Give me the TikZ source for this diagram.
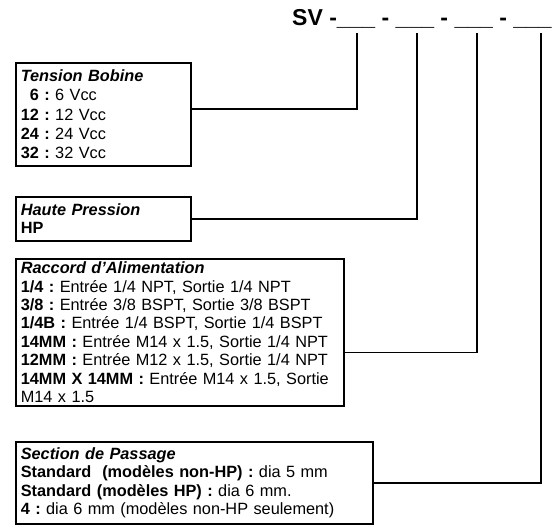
\documentclass[tikz,border=0pt]{standalone}
\usepackage{fontspec}
\setmainfont{Liberation Sans}

\begin{document}
\begin{tikzpicture}[x=1pt,y=-1pt,
    box/.style={draw, line width=1.6pt, anchor=north west, align=left,
      inner xsep=5pt, inner ysep=1pt, font=\fontsize{16.3}{18.4}\selectfont},
    link/.style={line width=1.6pt}]
    \useasboundingbox (0,0) rectangle (556,529);

    % Code
    \node[anchor=base west, inner sep=0pt, font=\fontsize{23}{26}\selectfont\bfseries]
      (code) at (292,26) {SV -\_\_\_ - \_\_\_ - \_\_\_ - \_\_\_};
    \coordinate (t1) at (357,33);
    \coordinate (t2) at (417,33);
    \coordinate (t3) at (477,33);
    \coordinate (t4) at (541,33);

    % Tension Bobine
    \node[box, text width=165pt, minimum height=103pt] (tension) at (15,62)
      {\textbf{\textit{Tension Bobine}}\\[1pt]
       \textbf{\phantom{1}6 :}~6 Vcc\\[1pt]
       \textbf{12 :}~12 Vcc\\[1pt]
       \textbf{24 :}~24 Vcc\\[1pt]
       \textbf{32 :}~32 Vcc};

    % Haute Pression
    \node[box, text width=165pt, minimum height=44pt] (pression) at (15,196)
      {\textbf{\textit{Haute Pression}}\\
       \textbf{HP}};

    % Raccord
    \node[box, text width=318pt, minimum height=147pt] (raccord) at (15,258)
      {\textbf{\textit{Raccord d'Alimentation}}\\
       \textbf{1/4 :}~Entrée 1/4 NPT, Sortie 1/4 NPT\\
       \textbf{3/8 :}~Entrée 3/8 BSPT, Sortie 3/8 BSPT\\
       \textbf{1/4B :}~Entrée 1/4 BSPT, Sortie 1/4 BSPT\\
       \textbf{14MM :}~Entrée M14 x 1.5, Sortie 1/4 NPT\\
       \textbf{12MM :}~Entrée M12 x 1.5, Sortie 1/4 NPT\\
       \textbf{14MM X 14MM :}~Entrée M14 x 1.5, Sortie\\
       M14 x 1.5};

    % Section de Passage
    \node[box, text width=347pt, minimum height=82pt] (section) at (15,441)
      {\textbf{\textit{Section de Passage}}\\
       \textbf{Standard\ \ (modèles non-HP) :}~dia 5 mm\\
       \textbf{Standard (modèles HP) :}~dia 6 mm.\\
       \textbf{4 :}~dia 6 mm (modèles non-HP seulement)};

    % Links
    \draw[link] ([yshift=5pt]tension.east) -| (t1);
    \draw[link] (pression.east) -| (t2);
    \draw[link] ([yshift=-20pt]raccord.east) -| (t3);
    \draw[link] (section.east) -| (t4);
\end{tikzpicture}
\end{document}
